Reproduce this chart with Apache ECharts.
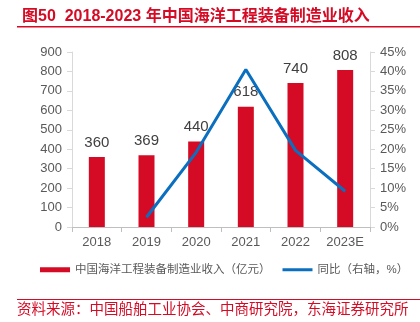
<!DOCTYPE html>
<html>
<head>
<meta charset="utf-8">
<script src="https://cdn.jsdelivr.net/npm/echarts@6/dist/echarts.min.js"></script>
<style>
  html, body { margin: 0; padding: 0; background: #fff; }
  #chart { width: 420px; height: 322px; }
</style>
</head>
<body>
<div id="chart"></div>
<script>
// Categories and values
const years = ['2018', '2019', '2020', '2021', '2022', '2023E'];
const revenue = [360, 369, 440, 618, 740, 808];          // 亿元
const yoy = [null, 2.5, 19.2, 40.5, 19.7, 9.2];           // %
const leftTicks = { min: 0, max: 900, interval: 100 };
const rightTicks = { min: 0, max: 45, interval: 5 };

const RED = '#D50B25';
const BLUE = '#0A6FBF';
const GREY = '#595959';
const FONT = '"Liberation Sans", "Noto Sans CJK SC", sans-serif';

const chart = echarts.init(document.getElementById('chart'), null, { renderer: 'canvas' });

chart.setOption({
  animation: false,
  textStyle: { fontFamily: FONT },
  title: {
    text: '图50  2018-2023 年中国海洋工程装备制造业收入',
    left: 17, top: 4,
    textStyle: { color: RED, fontSize: 16, fontWeight: 'bold', fontFamily: FONT }
  },
  graphic: [
    { type: 'rect', shape: { x: 17, y: 26, width: 403, height: 1.5 }, style: { fill: RED } },
    { type: 'rect', shape: { x: 17, y: 299, width: 403, height: 1 }, style: { fill: RED } },
    {
      type: 'text', left: 17, top: 303,
      style: { text: '资料来源：中国船舶工业协会、中商研究院，东海证券研究所', fill: RED, fontSize: 14.5, fontFamily: FONT }
    }
  ],
  grid: { left: 72, right: 50, top: 52, bottom: 95 },
  legend: {
    left: 40, top: 264, right: 0, padding: 0,
    itemWidth: 30, itemHeight: 5, itemGap: 12,
    textStyle: { color: GREY, fontSize: 11.5, fontFamily: FONT },
    data: [
      { name: '中国海洋工程装备制造业收入（亿元）', icon: 'rect' },
      { name: '同比（右轴，%）', icon: 'path://M0,1L30,1L30,4L0,4Z', itemStyle: { color: BLUE } }
    ]
  },
  xAxis: {
    type: 'category',
    data: years,
    axisLine: { lineStyle: { color: '#BFBFBF' } },
    axisTick: { show: true, alignWithLabel: false, length: 5, lineStyle: { color: '#BFBFBF' } },
    axisLabel: { color: GREY, fontSize: 13, margin: 9 }
  },
  yAxis: [
    {
      type: 'value', min: leftTicks.min, max: leftTicks.max, interval: leftTicks.interval,
      splitLine: { show: false },
      axisLine: { show: true, lineStyle: { color: '#D9D9D9' } },
      axisTick: { show: true, length: 5, lineStyle: { color: '#D9D9D9' } },
      axisLabel: { color: GREY, fontSize: 13, margin: 10 }
    },
    {
      type: 'value', min: rightTicks.min, max: rightTicks.max, interval: rightTicks.interval,
      splitLine: { show: false },
      axisLine: { show: true, lineStyle: { color: '#D9D9D9' } },
      axisTick: { show: true, length: 5, lineStyle: { color: '#D9D9D9' } },
      axisLabel: { color: GREY, fontSize: 13, margin: 10, formatter: '{value}%' }
    }
  ],
  series: [
    {
      name: '中国海洋工程装备制造业收入（亿元）',
      type: 'bar',
      data: revenue,
      barWidth: 16,
      itemStyle: { color: RED },
      label: { show: true, position: 'top', distance: 7, color: '#404040', fontSize: 15, fontFamily: FONT }
    },
    {
      name: '同比（右轴，%）',
      type: 'line',
      yAxisIndex: 1,
      data: yoy,
      symbol: 'none',
      lineStyle: { color: BLUE, width: 3 },
      itemStyle: { color: BLUE }
    }
  ]
});
</script>
</body>
</html>
